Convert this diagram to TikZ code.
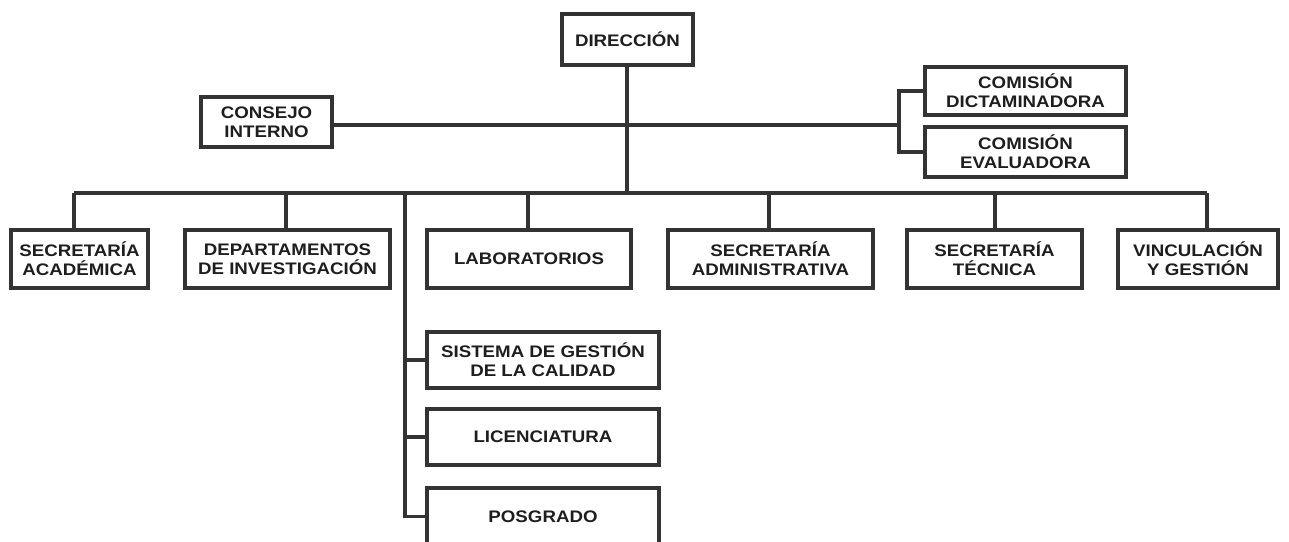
\documentclass[tikz,border=0pt]{standalone}
\usepackage{fontspec}
\setmainfont{Liberation Sans}
\newfontfamily\orgfont[FakeStretch=1.12]{Liberation Sans}
\begin{document}
\begin{tikzpicture}[x=1pt,y=-1pt,
  box/.style={draw=linegray, line width=3.3pt, fill=white, inner sep=0pt,
    align=center, font=\orgfont\fontsize{16.7}{18.8}\selectfont\bfseries, text=textgray},
  link/.style={draw=linegray, line width=3.1pt}]
\definecolor{linegray}{HTML}{333333}
\definecolor{textgray}{HTML}{1E1E1E}
\useasboundingbox (0,0) rectangle (1289,541);
\clip (0,0) rectangle (1289,541);

% top level
\node[box, minimum width=131pt, minimum height=51pt] (dir) at (627.5,39.5) {DIRECCIÓN};
\node[box, minimum width=131pt, minimum height=50pt] (consejo) at (266.5,122) {CONSEJO\\INTERNO};
\node[box, minimum width=201pt, minimum height=48pt] (dict) at (1025.5,91) {COMISIÓN\\DICTAMINADORA};
\node[box, minimum width=201pt, minimum height=50pt] (eval) at (1025.5,152) {COMISIÓN\\EVALUADORA};

% second level
\node[box, minimum width=137pt, minimum height=58pt] (acad) at (79.5,259) {SECRETARÍA\\ACADÉMICA};
\node[box, minimum width=205pt, minimum height=58pt] (deptos) at (287.5,259) {DEPARTAMENTOS\\DE INVESTIGACIÓN};
\node[box, minimum width=204pt, minimum height=58pt] (lab) at (529,259) {LABORATORIOS};
\node[box, minimum width=205pt, minimum height=58pt] (adm) at (770.5,259) {SECRETARÍA\\ADMINISTRATIVA};
\node[box, minimum width=175pt, minimum height=58pt] (tec) at (994.5,259) {SECRETARÍA\\TÉCNICA};
\node[box, minimum width=160pt, minimum height=58pt] (vinc) at (1198,259) {VINCULACIÓN\\Y GESTIÓN};

% stacked units
\node[box, minimum width=232pt, minimum height=56pt] (sgc) at (543,360) {SISTEMA DE GESTIÓN\\DE LA CALIDAD};
\node[box, minimum width=232pt, minimum height=56pt] (lic) at (543,437) {LICENCIATURA};
\node[box, minimum width=232pt, minimum height=57pt] (pos) at (543,516.5) {POSGRADO};

% junction points
\coordinate (hub) at (627,125);
\coordinate (bus) at (627,193);
\coordinate (busL) at (74,193);
\coordinate (busR) at (1207,193);
\coordinate (fork) at (899,125);
\coordinate (stem) at (405,193);

% connectors
\draw[link] (dir.south -| hub) -- (bus);
\draw[link] (consejo.east |- hub) -- (fork);
\draw[link] (dict.west) -| (fork) |- (eval.west);
\draw[link] (busL) -- (busR);
\draw[link] (busL) -- (acad.north -| busL);
\draw[link] (286,193) -- (deptos.north -| 286,0);
\draw[link] (528,193) -- (lab.north -| 528,0);
\draw[link] (769,193) -- (adm.north -| 769,0);
\draw[link] (995,193) -- (tec.north -| 995,0);
\draw[link] (busR) -- (vinc.north -| busR);
\draw[link] (stem) -- (stem |- pos.west) -- (pos.west);
\draw[link] (stem |- sgc.west) -- (sgc.west);
\draw[link] (stem |- lic.west) -- (lic.west);
\end{tikzpicture}
\end{document}
